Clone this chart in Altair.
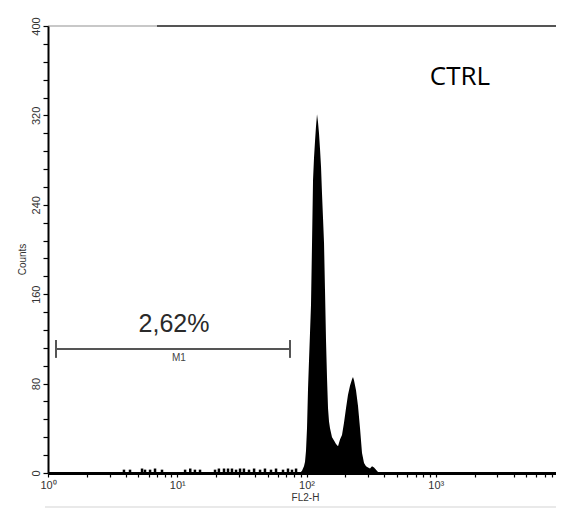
import altair as alt
import pandas as pd

# ---- data (FL2-H histogram, CTRL) ----
fl2_values = [89.1, 92.3, 95.6, 97.4, 99.1, 100.9, 102.7, 104.5, 106.4, 108.3,
              110.3, 112.3, 114.3, 116.4, 118.4, 120.6, 122.7, 124.9, 127.2, 129.5,
              131.8, 134.2, 136.6, 139.0, 141.6, 144.1, 146.7, 149.3, 152.0, 157.5,
              163.2, 169.1, 175.3, 181.6, 188.2, 195.0, 202.1, 209.4, 217.0, 224.9,
              228.9, 233.0, 241.5, 250.3, 259.4, 268.8, 278.6, 288.6, 299.1, 309.9,
              321.2, 332.9, 344.9, 357.5, 370.4]
fl2_counts = [0, 2, 6, 10, 20, 40, 75, 100, 125, 150,
              205, 262, 282, 297, 310, 321, 314, 304, 290, 274,
              250, 228, 206, 164, 118, 85, 58, 46, 40, 32,
              29, 26, 24, 30, 34, 45, 58, 70, 78, 84,
              86, 83, 74, 60, 40, 18, 9, 6, 5, 4,
              6, 5, 3, 1, 0]

noise_values = [3.87, 4.31, 5.34, 5.63, 6.16, 6.73, 7.62, 11.5, 12.6, 13.7, 15.0,
                19.6, 21.0, 23.0, 24.7, 26.5, 28.5, 30.6, 32.8, 35.9, 39.3, 43.7,
                47.7, 53.1, 58.1, 65.8, 71.9, 77.2, 83.0]
noise_counts = [3, 3, 4, 3, 3, 4, 3, 3, 4, 3, 3,
                3, 4, 4, 4, 4, 3, 4, 4, 3, 4, 3,
                4, 3, 4, 3, 4, 3, 4]

y_tick_values = list(range(0, 401, 16))
x_tick_values = [m * 10 ** d for d in range(4) for m in range(1, 10)]
decade_values = [1, 10, 100, 1000]
decade_labels = ["10⁰", "10¹", "10²", "10³"]
x_max = 8515

marker_start, marker_end, marker_level = 1.153, 74.5, 111
marker_cap_low, marker_cap_high = 103, 119
pct_label = "2,62%"
pct_x, pct_y = 9.44, 133
m1_label = "M1"
m1_x, m1_y = 10.3, 102.5
ctrl_label = "CTRL"
ctrl_x, ctrl_y = 1540, 354
top_split = 6.97

FONT = "Liberation Sans"

xs = alt.Scale(type="log", domain=[1, x_max])
ys = alt.Scale(domain=[0, 400])

label_expr = "".join(
    f"datum.value == {v} ? '{l}' : " for v, l in zip(decade_values, decade_labels)
) + "''"

x_axis = alt.Axis(
    values=x_tick_values, labelExpr=label_expr, title="FL2-H",
    titleX=257, titleY=24, titleAlign="center", titleBaseline="middle",
    titleFont=FONT, titleFontSize=10, titleFontWeight="normal", titleColor="#333333",
    labelFont=FONT, labelFontSize=11, labelColor="#333333",
    labelAlign="center", labelBaseline="top", labelPadding=2,
    labelOverlap=False,
    tickSize=4, tickColor="black", tickWidth=1.2,
    domainColor="black", domainWidth=3, grid=False, zindex=1,
)
y_axis = alt.Axis(
    values=y_tick_values, labelExpr="datum.value % 80 == 0 ? datum.label : ''",
    title="Counts", titleAngle=270, titleX=-26, titleY=233,
    titleAlign="center", titleBaseline="middle",
    titleFont=FONT, titleFontSize=10, titleFontWeight="normal", titleColor="#333333",
    labelFont=FONT, labelFontSize=11, labelColor="#333333",
    labelAngle=270, labelAlign="center", labelBaseline="bottom", labelPadding=2,
    labelOverlap=False,
    tickSize=5, tickColor="black", tickWidth=1.2,
    domainColor="black", domainWidth=2, grid=False, zindex=1,
)


def X(field="v"):
    return alt.X(f"{field}:Q", scale=xs, axis=x_axis)


def Y(field="c"):
    return alt.Y(f"{field}:Q", scale=ys, axis=y_axis)


hist_df = pd.DataFrame({"v": fl2_values, "c": fl2_counts})
noise_df = pd.DataFrame({"v": noise_values, "c": noise_counts})

hist = alt.Chart(hist_df).mark_area(color="black", interpolate="linear").encode(
    x=X(), y=Y())

noise = alt.Chart(noise_df).mark_rule(color="black", strokeWidth=2.5).encode(
    x=X(), y=Y(), y2=alt.datum(0))

top_light = alt.Chart(pd.DataFrame({"v": [1], "v2": [top_split], "c": [400]})).mark_rule(
    color="#c8c8c8", strokeWidth=2).encode(x=X(), x2="v2:Q", y=Y())
top_dark = alt.Chart(pd.DataFrame({"v": [top_split], "v2": [x_max], "c": [400]})).mark_rule(
    color="#555555", strokeWidth=2).encode(x=X(), x2="v2:Q", y=Y())

marker_bar = alt.Chart(pd.DataFrame({"v": [marker_start], "v2": [marker_end], "c": [marker_level]})).mark_rule(
    color="#555555", strokeWidth=2).encode(x=X(), x2="v2:Q", y=Y())
marker_caps = alt.Chart(pd.DataFrame({"v": [marker_start, marker_end],
                                      "c": [marker_cap_low, marker_cap_low],
                                      "c2": [marker_cap_high, marker_cap_high]})).mark_rule(
    color="#555555", strokeWidth=2).encode(x=X(), y=Y(), y2="c2:Q")

pct_text = alt.Chart(pd.DataFrame({"v": [pct_x], "c": [pct_y], "t": [pct_label]})).mark_text(
    font=FONT, fontSize=25, color="#2a2a2a", align="center", baseline="middle").encode(
    x=X(), y=Y(), text="t:N")
m1_text = alt.Chart(pd.DataFrame({"v": [m1_x], "c": [m1_y], "t": [m1_label]})).mark_text(
    font=FONT, fontSize=10, color="#444444", align="center", baseline="middle").encode(
    x=X(), y=Y(), text="t:N")
ctrl_text = alt.Chart(pd.DataFrame({"v": [ctrl_x], "c": [ctrl_y], "t": [ctrl_label]})).mark_text(
    font="Open Sans", fontSize=26, color="black", align="center", baseline="middle").encode(
    x=X(), y=Y(), text="t:N")

bottom_line = alt.Chart(pd.DataFrame({"a": [0]})).mark_rule(color="#e2e2e2", strokeWidth=1.5).encode(
    x=alt.value(-3), x2=alt.value(508), y=alt.value(481))

chart = alt.layer(
    hist, noise, top_light, top_dark, marker_bar, marker_caps,
    pct_text, m1_text, ctrl_text, bottom_line,
).properties(
    width=508, height=447,
    autosize=alt.AutoSizeParams(type="none"),
    padding={"left": 40, "top": 18, "right": 0, "bottom": 35},
    background="white",
).configure_view(stroke=None)

chart.save("out.html", embed_options={"renderer": "svg", "actions": False})
